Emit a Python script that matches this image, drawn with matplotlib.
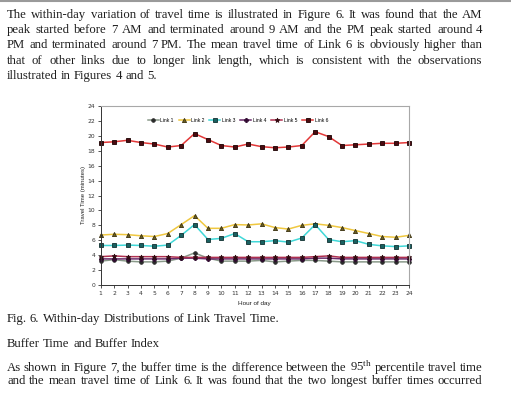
import matplotlib
matplotlib.use("Agg")
import matplotlib.pyplot as plt

hours = list(range(1, 25))
link1 = [3.2, 3.4, 3.2, 3.1, 3.1, 3.2, 3.6, 4.3, 3.6, 3.2, 3.2, 3.2,
         3.3, 3.1, 3.2, 3.3, 3.3, 3.2, 3.1, 3.1, 3.1, 3.1, 3.1, 3.1]
link2 = [6.7, 6.8, 6.75, 6.6, 6.5, 6.9, 8.1, 9.3, 7.6, 7.6, 8.1, 8.05,
         8.2, 7.7, 7.5, 8.0, 8.2, 8.0, 7.7, 7.3, 6.9, 6.5, 6.4, 6.65]
link3 = [5.3, 5.3, 5.35, 5.3, 5.2, 5.35, 6.65, 8.1, 6.1, 6.25, 6.9, 5.8,
         5.8, 5.95, 5.75, 6.3, 8.1, 6.1, 5.8, 5.95, 5.45, 5.25, 5.15, 5.25]
link4 = [3.5, 3.5, 3.5, 3.5, 3.5, 3.5, 3.6, 3.6, 3.5, 3.5, 3.5, 3.5,
         3.5, 3.5, 3.5, 3.5, 3.6, 3.6, 3.5, 3.5, 3.5, 3.5, 3.5, 3.5]
link5 = [3.8, 3.9, 3.8, 3.8, 3.8, 3.8, 3.7, 3.7, 3.7, 3.7, 3.7, 3.7,
         3.7, 3.7, 3.7, 3.7, 3.8, 3.9, 3.7, 3.7, 3.7, 3.7, 3.7, 3.7]
link6 = [19.1, 19.2, 19.4, 19.1, 18.9, 18.5, 18.7, 20.3, 19.5, 18.7, 18.5, 18.9,
         18.55, 18.4, 18.5, 18.7, 20.55, 19.9, 18.7, 18.8, 18.9, 19.0, 19.0, 19.1]
link_names = ["Link 1", "Link 2", "Link 3", "Link 4", "Link 5", "Link 6"]

para1 = [
    "The within-day variation of travel time is illustrated in Figure 6. It was found that the AM",
    "peak started before 7 AM and terminated around 9 AM and the PM peak started around 4",
    "PM and terminated around 7 PM. The mean travel time of Link 6 is obviously higher than",
    "that of other links due to longer link length, which is consistent with the observations",
    "illustrated in Figures 4 and 5.",
]
caption = "Fig. 6. Within-day Distributions of Link Travel Time."
heading = "Buffer Time and Buffer Index"
para2 = [
    "As shown in Figure 7, the buffer time is the difference between the 95$^{\\mathrm{th}}$ percentile travel time",
    "and the mean travel time of Link 6. It was found that the two longest buffer times occurred",
]

plt.rcParams['mathtext.fontset'] = 'custom'
plt.rcParams['mathtext.rm'] = 'Liberation Serif'
plt.rcParams['mathtext.it'] = 'Liberation Serif:italic'

W, H = 511, 398
fig = plt.figure(figsize=(W / 100, H / 100), dpi=100)
renderer = fig.canvas.get_renderer()

SERIF = 'Liberation Serif'
FS = 9.2
TXT = '#1e1e1e'


def put_line(line, base_y, justify=True, x0=7, x1=483):
    # base_y is a whole pixel row so every word lands on the same baseline
    y = (H - base_y + 0.01) / H
    words = line.split(' ')
    items = []
    for w in words:
        t = fig.text(0, y, w, fontsize=FS, family=SERIF,
                     color=TXT, ha='left', va='baseline')
        items.append((t, t.get_window_extent(renderer).width))
    if justify and len(items) > 1:
        gap = (x1 - x0 - sum(w for _, w in items)) / (len(items) - 1)
    else:
        sp = fig.text(0, 0, 'a a', fontsize=FS, family=SERIF)
        sp2 = fig.text(0, 0, 'aa', fontsize=FS, family=SERIF)
        gap = sp.get_window_extent(renderer).width - sp2.get_window_extent(renderer).width
        sp.remove()
        sp2.remove()
    x = x0
    for t, w in items:
        t.set_x(round(x) / W)
        x += w + gap


# grey page edge at the top
fig.add_artist(plt.Line2D([0, 1], [1 - 1 / H, 1 - 1 / H], color='#9a9a9a', lw=1.5))

baselines = [18, 33, 48, 64, 79]
for i, line in enumerate(para1):
    put_line(line, baselines[i], justify=(i < len(para1) - 1))
put_line(caption, 322, justify=False)
put_line(heading, 347, justify=False)
put_line(para2[0], 371)
put_line(para2[1], 384)

# chart
ax = fig.add_axes([100.7 / W, 1 - 285 / H, (409 - 100.7) / W, (285 - 106) / H])
styles = [
    dict(color='#8a9a8a', marker='o', mfc='#2a2a2a', mec='#2a2a2a', ms=2.6),
    dict(color='#f0c840', marker='^', mfc='#6b6020', mec='#3a3010', ms=3),
    dict(color='#40d8d8', marker='s', mfc='#1a6060', mec='#103030', ms=2.8),
    dict(color='#6a2a6a', marker='P', mfc='#300a30', mec='#300a30', ms=3),
    dict(color='#b03050', marker='*', mfc='#300a10', mec='#300a10', ms=3.5),
    dict(color='#e23838', marker='s', mfc='#4a0a10', mec='#1a0000', ms=3),
]
series = [link1, link2, link3, link4, link5, link6]
for vals, name, st in zip(series, link_names, styles):
    ax.plot(hours, vals, lw=1.1, label=name, clip_on=False, mew=0.6, **st)

ax.set_xlim(1, 24)
ax.set_ylim(0, 24)
ax.set_xticks(hours)
ax.set_yticks(range(0, 25, 2))
ax.tick_params(labelsize=4.3, length=2, width=0.6, pad=2, colors='#333333')
for s in ['top', 'right']:
    ax.spines[s].set_color('#a8a8a8')
    ax.spines[s].set_linewidth(0.8)
for s in ['left', 'bottom']:
    ax.spines[s].set_color('#333333')
    ax.spines[s].set_linewidth(0.7)
ax.set_xlabel('Hour of day', fontsize=4.6, family='Liberation Sans', labelpad=4, color='#222222')
ax.set_ylabel('Travel Time (minutes)', fontsize=4.3, family='Liberation Sans', labelpad=1, color='#222222')
ax.legend(loc='center', bbox_to_anchor=(0.445, 0.92), ncol=6, frameon=False,
          prop={'family': 'Liberation Sans', 'size': 3.6}, handlelength=2.2,
          columnspacing=1.0, handletextpad=0.3)

fig.savefig('out.png', dpi=100)
